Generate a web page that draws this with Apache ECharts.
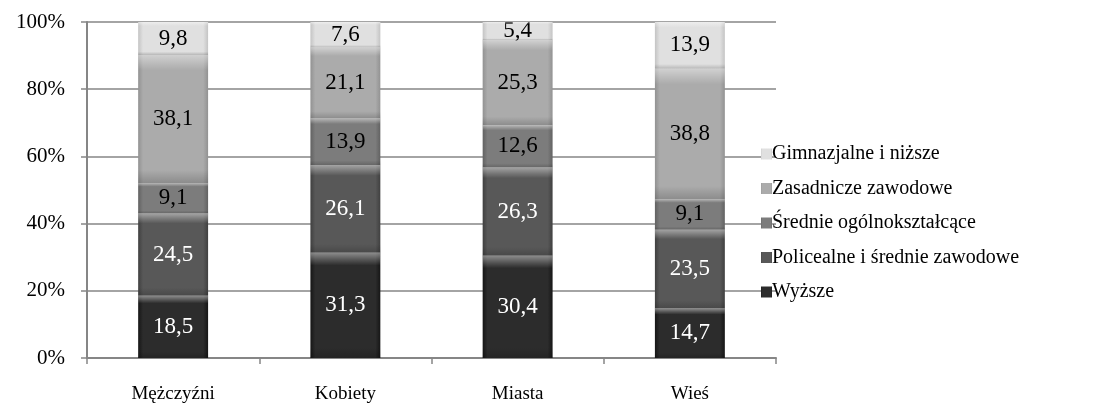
<!DOCTYPE html>
<html>
<head>
<meta charset="utf-8">
<script src="https://cdn.jsdelivr.net/npm/echarts@6/dist/echarts.min.js"></script>
<style>html,body{margin:0;padding:0;background:#fff}#c{width:1119px;height:408px}</style>
</head>
<body>
<div id="c"></div>
<script>
var categories = ['Mężczyźni', 'Kobiety', 'Miasta', 'Wieś'];
var seriesNames = ['Wyższe', 'Policealne i średnie zawodowe', 'Średnie ogólnokształcące', 'Zasadnicze zawodowe', 'Gimnazjalne i niższe'];
var wyzsze = [18.5, 31.3, 30.4, 14.7];
var policealne = [24.5, 26.1, 26.3, 23.5];
var srednie = [9.1, 13.9, 12.6, 9.1];
var zasadnicze = [38.1, 21.1, 25.3, 38.8];
var gimnazjalne = [9.8, 7.6, 5.4, 13.9];
var yTicks = [0, 20, 40, 60, 80, 100];

var values = [wyzsze, policealne, srednie, zasadnicze, gimnazjalne];
var baseColors = [
  ['#161616', '#2c2c2c'],
  ['#404040', '#585858'],
  ['#626262', '#7c7c7c'],
  ['#929292', '#ababab'],
  ['#c4c4c4', '#e0e0e0']
];
var labelColors = ['#ffffff', '#ffffff', '#000000', '#000000', '#000000'];
var FONT = '"Liberation Serif", "Times New Roman", serif';

var series = [];
seriesNames.forEach(function (name, i) {
  var c = baseColors[i];
  series.push({
    name: name,
    type: 'bar',
    stack: 'total',
    barWidth: '40.6%',
    barGap: '-100%',
    data: values[i],
    itemStyle: {
      color: {
        type: 'linear', x: 0, y: 0, x2: 1, y2: 0,
        colorStops: [
          {offset: 0, color: c[0]},
          {offset: 0.07, color: c[1]},
          {offset: 0.93, color: c[1]},
          {offset: 1, color: c[0]}
        ]
      }
    },
    label: {
      show: true,
      position: 'inside',
      color: labelColors[i],
      fontFamily: FONT,
      fontSize: 23,
      formatter: function (p) { return String(p.value).replace('.', ','); }
    },
    emphasis: {disabled: true},
    z: 2
  });
});
// bevel overlay (same values, second stack drawn on top)
seriesNames.forEach(function (name, i) {
  series.push({
    name: name + ' ',
    type: 'bar',
    stack: 'bevel',
    barWidth: '40.6%',
    barGap: '-100%',
    data: values[i],
    silent: true,
    itemStyle: {
      color: {
        type: 'linear', x: 0, y: 0, x2: 0, y2: 1,
        colorStops: [
          {offset: 0, color: 'rgba(255,255,255,0.45)'},
          {offset: 0.07, color: 'rgba(255,255,255,0.18)'},
          {offset: 0.12, color: 'rgba(255,255,255,0)'},
          {offset: 0.9, color: 'rgba(0,0,0,0)'},
          {offset: 1, color: 'rgba(0,0,0,0.18)'}
        ]
      }
    },
    label: {show: false},
    emphasis: {disabled: true},
    z: 3
  });
});

var chart = echarts.init(document.getElementById('c'), null, {renderer: 'canvas'});
chart.setOption({
  animation: false,
  backgroundColor: '#ffffff',
  grid: {left: 87, right: 343, top: 22, bottom: 50, containLabel: false},
  legend: {
    orient: 'vertical',
    left: 756,
    top: 138,
    itemWidth: 11,
    itemHeight: 11,
    itemGap: 12.5,
    icon: 'rect',
    data: seriesNames.slice().reverse(),
    textStyle: {fontFamily: FONT, fontSize: 20, color: '#000', lineHeight: 22, padding: [0, 0, 0, -5]}
  },
  xAxis: {
    type: 'category',
    data: categories,
    axisLine: {lineStyle: {color: '#868686', width: 2}},
    axisTick: {show: true, alignWithLabel: false, length: 6, lineStyle: {color: '#868686', width: 1.5}},
    axisLabel: {fontFamily: FONT, fontSize: 19, color: '#000', margin: 27}
  },
  yAxis: {
    type: 'value',
    min: 0,
    max: 100,
    interval: 20,
    axisLine: {show: true, lineStyle: {color: '#868686', width: 2}},
    axisTick: {show: true, length: 6, lineStyle: {color: '#868686', width: 1.5}},
    splitLine: {show: true, lineStyle: {color: '#868686', width: 1.5}},
    axisLabel: {fontFamily: FONT, fontSize: 21, color: '#000', margin: 22,
      formatter: function (v) { return yTicks.indexOf(v) >= 0 ? v + '%' : ''; }}
  },
  series: series
});
</script>
</body>
</html>
